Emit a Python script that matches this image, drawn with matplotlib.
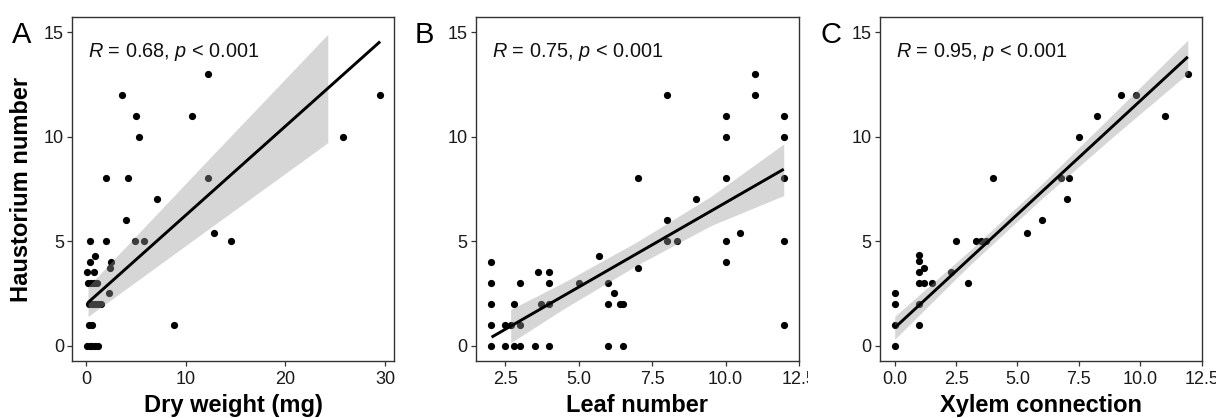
import numpy as np
import matplotlib
matplotlib.use("Agg")
import matplotlib.pyplot as plt
from matplotlib.transforms import Bbox, TransformedBbox

plt.rcParams['font.family'] = ['Liberation Sans', 'DejaVu Sans']
plt.rcParams['mathtext.fontset'] = 'custom'
plt.rcParams['mathtext.rm'] = 'Liberation Sans'
plt.rcParams['mathtext.it'] = 'Liberation Sans:italic'

# ---------------- data ----------------
# Panel A: dry weight (mg) vs haustorium number
dry_x = [12.2, 3.6, 29.5, 5.0, 10.6, 5.3, 25.8, 2.0, 4.2, 12.2, 7.1, 4.0, 12.8,
         0.43, 2.0, 4.9, 5.8, 14.5, 0.87, 0.43, 2.5, 2.4, 0.05, 0.77,
         0.2, 0.5, 0.8, 1.1, 2.3, 0.25, 0.55, 0.85, 1.15, 1.5, 0.25, 0.6, 8.85,
         0.1, 0.35, 0.6, 0.9, 1.2]
dry_y = [13, 12, 12, 11, 11, 10, 10, 8, 8, 8, 7, 6, 5.4,
         5, 5, 5, 5, 5, 4.3, 4, 4, 3.7, 3.5, 3.5,
         3, 3, 3, 3, 2.5, 2, 2, 2, 2, 2, 1, 1, 1,
         0, 0, 0, 0, 0]
dry_fit_x = [0.2, 29.5]
dry_fit_y = [2.06, 14.55]
dry_band_x = [0.2, 12.2, 24.25]
dry_band_lo = [1.39, 5.55, 9.71]
dry_band_hi = [2.82, 8.87, 14.9]

# Panel B: leaf number vs haustorium number
leaf_x = [2.0, 2.5, 2.8, 3.0, 3.5, 4.0, 6.0, 6.5,
          2.0, 2.5, 2.7, 3.0, 12.0,
          2.0, 2.8, 3.7, 4.0, 6.0, 6.4, 6.5,
          6.2,
          2.0, 3.0, 4.0, 5.0, 6.0,
          3.6, 4.0, 7.0,
          2.0, 10.0, 5.7,
          8.0, 8.33, 10.0, 12.0, 10.5, 8.0, 9.0,
          7.0, 10.0, 12.0, 10.0, 12.0, 10.0, 12.0, 8.0, 11.0, 11.0]
leaf_y = [0, 0, 0, 0, 0, 0, 0, 0,
          1, 1, 1, 1, 1,
          2, 2, 2, 2, 2, 2, 2,
          2.5,
          3, 3, 3, 3, 3,
          3.5, 3.5, 3.7,
          4, 4, 4.3,
          5, 5, 5, 5, 5.4, 6, 7,
          8, 8, 8, 10, 10, 11, 11, 12, 12, 13]
leaf_fit_x = [2.03, 11.98]
leaf_fit_y = [0.40, 8.44]
leaf_band_x = [2.68, 4.5, 7.0, 9.5, 11.98]
leaf_band_lo = [0.13, 1.77, 3.86, 5.74, 7.18]
leaf_band_hi = [1.73, 3.03, 4.98, 7.14, 9.65]

# Panel C: xylem connection vs haustorium number
xyl_x = [0.0, 0.0, 0.0, 0.0, 1.0, 1.0, 1.0, 1.2, 1.5, 1.0, 1.2, 1.0, 1.0,
         2.28, 3.0, 2.48, 3.3, 3.5, 3.7, 4.0, 5.4, 6.0, 6.76, 7.1, 7.0,
         7.5, 8.23, 9.23, 9.81, 11.0, 11.94]
xyl_y = [0, 1, 2, 2.5, 1, 2, 3, 3, 3, 3.5, 3.7, 4.05, 4.35,
         3.5, 3, 5, 5, 5, 5, 8, 5.4, 6, 8, 8, 7,
         10, 11, 12, 12, 11, 13]
xyl_fit_x = [0.0, 11.94]
xyl_fit_y = [0.85, 13.82]
xyl_band_x = [0.0, 3.0, 6.0, 9.0, 11.94]
xyl_band_lo = [0.30, 3.79, 7.04, 10.10, 13.02]
xyl_band_hi = [1.40, 4.49, 7.74, 11.20, 14.62]

r_labels = ["0.68", "0.75", "0.95"]
x_titles = ["Dry weight (mg)", "Leaf number", "Xylem connection"]
panel_letters = ["A", "B", "C"]
y_title = "Haustorium number"
x_ticks = [[0, 10, 20, 30], [2.5, 5.0, 7.5, 10.0, 12.5], [0.0, 2.5, 5.0, 7.5, 10.0, 12.5]]
x_ticklabels = [["0", "10", "20", "30"], ["2.5", "5.0", "7.5", "10.0", "12.5"],
                ["0.0", "2.5", "5.0", "7.5", "10.0", "12.5"]]
y_ticks = [0, 5, 10, 15]

# ---------------- figure ----------------
W, H = 1216, 418
fig = plt.figure(figsize=(W / 100, H / 100), dpi=100)

def px_axes(l, r, t, b):
    return fig.add_axes([l / W, 1 - b / H, (r - l) / W, (b - t) / H])

axes_px = [(72.3, 394.3), (476, 799), (880, 1202.3)]
xlims = [(-1.38, 30.92), (1.5, 12.5), (-0.6, 12.53)]
ylim = (-0.74, 15.74)
letter_x = [12, 415, 820]

datasets = [
    (dry_x, dry_y, dry_fit_x, dry_fit_y, dry_band_x, dry_band_lo, dry_band_hi),
    (leaf_x, leaf_y, leaf_fit_x, leaf_fit_y, leaf_band_x, leaf_band_lo, leaf_band_hi),
    (xyl_x, xyl_y, xyl_fit_x, xyl_fit_y, xyl_band_x, xyl_band_lo, xyl_band_hi),
]

tick_fs = 13
for i, (l, r) in enumerate(axes_px):
    ax = px_axes(l, r, 16.7, 361)
    xs, ys, fx, fy, bx, blo, bhi = datasets[i]
    ax.scatter(xs, ys, s=27, color='black', linewidths=0, zorder=2)
    bxx = np.linspace(bx[0], bx[-1], 60)
    ax.fill_between(bxx, np.interp(bxx, bx, blo), np.interp(bxx, bx, bhi),
                    color='#999999', alpha=0.4, linewidth=0, zorder=3)
    ax.plot(fx, fy, color='black', linewidth=2.1, zorder=4, solid_capstyle='butt')
    ax.set_xlim(*xlims[i])
    ax.set_ylim(*ylim)
    ax.set_xticks(x_ticks[i])
    ax.set_xticklabels(x_ticklabels[i])
    ax.set_yticks(y_ticks)
    ax.set_yticklabels([str(v) for v in y_ticks])
    for sp in ax.spines.values():
        sp.set_linewidth(1.0)
        sp.set_color('#333333')
    ax.tick_params(axis='both', length=3.5, width=0.9, color='#333333',
                   labelsize=tick_fs, labelcolor='#1a1a1a', pad=2.5)
    ax.tick_params(axis='x', pad=4)
    ax.text(0.049, 0.883, r'$\mathit{R}$ = ' + r_labels[i] + r', $\mathit{p}$ < 0.001',
            transform=ax.transAxes, fontsize=14.3, va='baseline', ha='left', color='#111111')
    xc = (l + r) / 2 / W
    fig.text(xc, 1 - 411.7 / H, x_titles[i], fontsize=17, fontweight='bold',
             ha='center', va='baseline')
    fig.text(letter_x[i] / W, 1 - 43 / H, panel_letters[i], fontsize=21,
             ha='left', va='baseline')
    if i == 1:
        clip = TransformedBbox(Bbox([[0, 0], [808 / W, 1]]), fig.transFigure)
        for lab in ax.get_xticklabels():
            lab.set_clip_box(clip)
            lab.set_clip_on(True)

fig.text(21.5 / W, 1 - 189 / H, y_title, fontsize=17, fontweight='bold',
         rotation=90, ha='center', va='center')

fig.savefig("out.png", dpi=100)
